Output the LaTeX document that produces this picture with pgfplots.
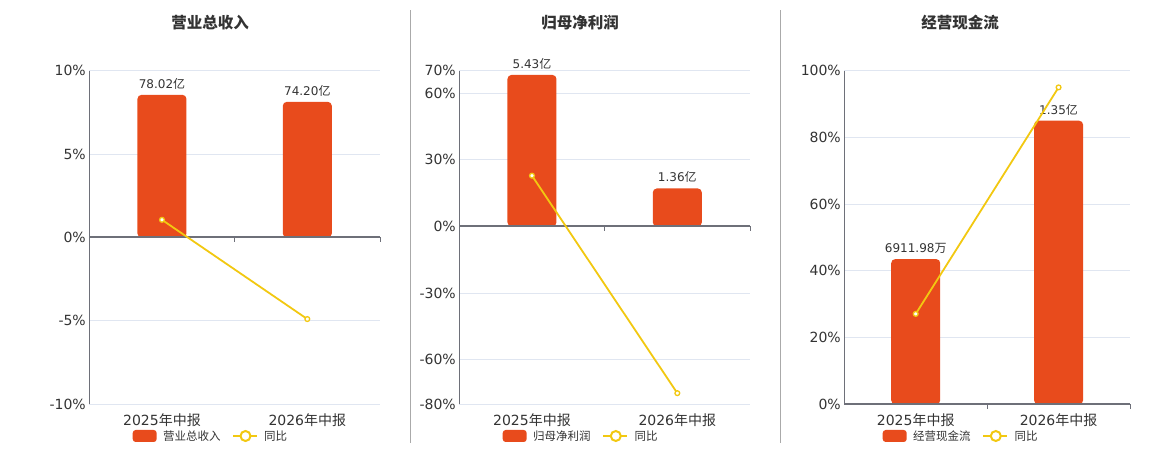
\documentclass[border=0pt]{standalone}
\usepackage{fontspec}
\setmainfont{DejaVu Sans}
\newfontfamily\cjk{Noto Sans CJK SC}
\usepackage{pgfplots}
\pgfplotsset{compat=1.18}
\definecolor{barc}{HTML}{E84B1C}
\definecolor{linec}{HTML}{F2C811}
\definecolor{gridc}{HTML}{E0E6F1}
\definecolor{axc}{HTML}{6E7079}
\definecolor{txt}{HTML}{333333}
\definecolor{sep}{HTML}{AAAAAA}
\pgfplotsset{
 base/.style={scale only axis, width=#1, height=333.6pt, anchor=south west, xmin=-0.5, xmax=1.5, clip=false},
 gridax/.style={base=#1, axis y line*=left, axis x line*=bottom,
   y axis line style={axc, line width=1.2pt, -}, x axis line style={gridc, -},
   ymajorgrids, grid style={gridc, line width=0.8pt},
   ytick style={draw=none}, xtick style={draw=none}, xtick={0,1},
   xticklabels={{2025{\cjk 年中报}},{2026{\cjk 年中报}}},
   tick label style={font=\fontsize{14}{16}\selectfont, text=txt},
   xticklabel style={yshift=-6pt}},
 barax/.style={base=#1, hide axis, ybar, bar width=49pt, bar shift=0pt},
 lineax/.style={base=#1, hide axis},
 barplot/.style={fill=barc, draw=none, rounded corners=4pt, nodes near coords, point meta=explicit symbolic,
   nodes near coords style={font=\fontsize{12}{14}\selectfont, text=txt, rounded corners=0pt, yshift=2pt}},
 lineplot/.style={linec, line width=1.8pt, mark=*, mark size=2.4pt, mark options={fill=white, draw=linec, line width=1.3pt}},
}
\newcommand{\zeroline}{%
  \draw[axc, line width=2pt] (axis cs:-0.5,0) -- (axis cs:1.5,0);
  \draw[axc, line width=1pt] (axis cs:0.5,0) -- ([yshift=-5pt]axis cs:0.5,0);
  \draw[axc, line width=1pt] (axis cs:1.5,0) -- ([yshift=-5pt]axis cs:1.5,0);
}
\newcommand{\legendpair}[3]{%
  \fill[barc, rounded corners=3pt] (#1pt,8pt) rectangle ++(24pt,12pt);
  \node[anchor=west, font=\cjk\fontsize{11.5}{13}\selectfont, text=txt, inner sep=0pt] at ([xshift=30.3pt]#1pt,14pt) {#2};
  \draw[linec, line width=2pt] ([xshift=#3pt]#1pt,14pt) -- ++(24pt,0);
  \draw[linec, line width=2pt, fill=white] ([xshift=#3pt+12.5pt]#1pt,14pt) circle (5pt);
  \node[anchor=west, font=\cjk\fontsize{11.5}{13}\selectfont, text=txt, inner sep=0pt] at ([xshift=#3pt+31pt]#1pt,14pt) {同比};
}
\begin{document}
\begin{tikzpicture}
\path[use as bounding box] (0,0) rectangle (1160pt,450pt);
% ---------- panel 1
\begin{axis}[gridax=290.7pt, at={(89.3pt,45.7pt)}, ymin=-10, ymax=10,
  ytick={-10,-5,0,5,10}, yticklabels={-10\%,-5\%,0\%,5\%,10\%}]
\addplot[draw=none] coordinates {(0,0)};
\end{axis}
\begin{axis}[barax=290.7pt, at={(89.3pt,45.7pt)}, ymin=-91.25, ymax=91.25]
\addplot[barplot] coordinates {(0,78.02)[78.02{\cjk 亿}] (1,74.20)[74.20{\cjk 亿}]};
\zeroline
\end{axis}
\begin{axis}[lineax=290.7pt, at={(89.3pt,45.7pt)}, ymin=-10, ymax=10]
\addplot[lineplot] coordinates {(0,1.06) (1,-4.89)};
\end{axis}
% ---------- panel 2
\begin{axis}[gridax=290.7pt, at={(459.3pt,45.7pt)}, ymin=-80, ymax=70,
  ytick={-80,-60,-30,0,30,60,70}, yticklabels={-80\%,-60\%,-30\%,0\%,30\%,60\%,70\%}]
\addplot[draw=none] coordinates {(0,0)};
\end{axis}
\begin{axis}[barax=290.7pt, at={(459.3pt,45.7pt)}, ymin=-6.379, ymax=5.582]
\addplot[barplot] coordinates {(0,5.43)[5.43{\cjk 亿}] (1,1.36)[1.36{\cjk 亿}]};
\zeroline
\end{axis}
\begin{axis}[lineax=290.7pt, at={(459.3pt,45.7pt)}, ymin=-80, ymax=70]
\addplot[lineplot] coordinates {(0,22.8) (1,-75.0)};
\end{axis}
% ---------- panel 3
\begin{axis}[gridax=285.7pt, at={(844.3pt,45.7pt)}, ymin=0, ymax=100,
  ytick={0,20,40,60,80,100}, yticklabels={0\%,20\%,40\%,60\%,80\%,100\%}]
\addplot[draw=none] coordinates {(0,0)};
\end{axis}
\begin{axis}[barax=285.7pt, at={(844.3pt,45.7pt)}, ymin=0, ymax=1.588]
\addplot[barplot] coordinates {(0,0.691198)[6911.98{\cjk 万}] (1,1.35)[1.35{\cjk 亿}]};
\zeroline
\end{axis}
\begin{axis}[lineax=285.7pt, at={(844.3pt,45.7pt)}, ymin=0, ymax=100]
\addplot[lineplot] coordinates {(0,27.1) (1,95.0)};
\end{axis}
% ---------- titles, separators, legends
\node[font=\cjk\bfseries\fontsize{15.5}{18}\selectfont, text=txt] at (210pt,427pt) {营业总收入};
\node[font=\cjk\bfseries\fontsize{15.5}{18}\selectfont, text=txt] at (580pt,427pt) {归母净利润};
\node[font=\cjk\bfseries\fontsize{15.5}{18}\selectfont, text=txt] at (960pt,427pt) {经营现金流};
\draw[sep, line width=1pt] (410.5pt,7pt) -- (410.5pt,440pt);
\draw[sep, line width=1pt] (780.5pt,7pt) -- (780.5pt,440pt);
\legendpair{132.7}{营业总收入}{100.3}
\legendpair{502.7}{归母净利润}{100.6}
\legendpair{882.7}{经营现金流}{100.6}
\end{tikzpicture}
\end{document}
